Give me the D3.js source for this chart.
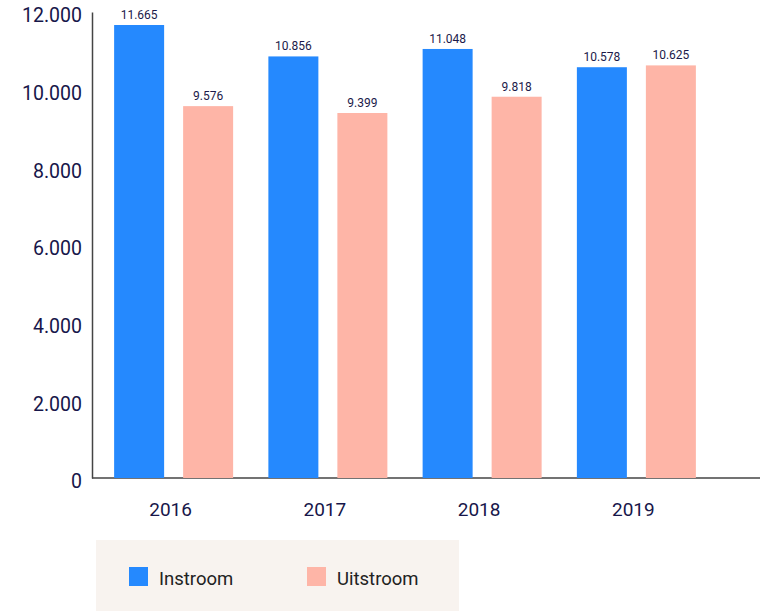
<!DOCTYPE html>
<html><head><meta charset="utf-8">
<script src="https://cdn.jsdelivr.net/npm/d3@7"></script>
<style>body{margin:0;background:#fff;font-family:Roboto,sans-serif}</style>
</head><body><svg id="c" width="774" height="611"></svg>
<script>
const years = ["2016","2017","2018","2019"];
const series = ["Instroom","Uitstroom"];
const instroom = [11665,10856,11048,10578];
const uitstroom = [9576,9399,9818,10625];
const yTicks = [0,2000,4000,6000,8000,10000,12000];
const colors = ["#2589fe","#feb5a7"];

const svg = d3.select("#c");
const nl = d3.formatLocale({decimal:",",thousands:".",grouping:[3],currency:["€",""]});
const fmt = nl.format(",d");

const y = d3.scaleLinear().domain([0,12000]).range([478,12]);
const x0 = d3.scaleBand().domain(years).range([96.5,713.5]).padding(0);
const x1 = d3.scaleBand().domain(series).range([0,119]).paddingInner(19/69).paddingOuter(0);
const off = (x0.bandwidth()-119)/2;

const data = years.map((yr,i)=>({yr, vals:[instroom[i],uitstroom[i]]}));

// axes
const yAxis = d3.axisLeft(y).tickValues(yTicks).tickFormat(d=>d===0?"0":fmt(d)).tickSize(0).tickPadding(10);
const ga = svg.append("g").attr("transform","translate(92,0)").call(yAxis);
ga.select(".domain").attr("stroke","#444").attr("stroke-width",1.5);
ga.selectAll("text").attr("font-size",19.5).attr("fill","#17164a").attr("font-family","Roboto").attr("dy","0.5em");

svg.append("line").attr("x1",92).attr("x2",760).attr("y1",478).attr("y2",478).attr("stroke","#444").attr("stroke-width",1.5);

const g = svg.selectAll(".grp").data(data).join("g").attr("transform",d=>`translate(${x0(d.yr)+off},0)`);
g.selectAll("rect").data(d=>d.vals.map((v,j)=>({v,s:series[j],j}))).join("rect")
  .attr("x",d=>x1(d.s)).attr("width",x1.bandwidth())
  .attr("y",d=>y(d.v)).attr("height",d=>478-y(d.v)).attr("fill",d=>colors[d.j]);
g.selectAll("text.v").data(d=>d.vals.map((v,j)=>({v,s:series[j]}))).join("text").attr("class","v")
  .attr("x",d=>x1(d.s)+x1.bandwidth()/2).attr("y",d=>y(d.v)-6)
  .attr("text-anchor","middle").attr("font-size",12).attr("fill","#1b1a4a").text(d=>fmt(d.v));

svg.selectAll("text.yr").data(years).join("text").attr("class","yr")
  .attr("x",d=>x0(d)+x0.bandwidth()/2-3).attr("y",516).attr("text-anchor","middle")
  .attr("font-size",19).attr("fill","#17164a").text(d=>d);

// legend
svg.append("rect").attr("x",96).attr("y",540).attr("width",363).attr("height",71).attr("fill","#f8f3ef");
const lx = [129,307];
series.forEach((s,i)=>{
  svg.append("rect").attr("x",lx[i]).attr("y",567).attr("width",19).attr("height",19).attr("fill",colors[i]);
  svg.append("text").attr("x",lx[i]+30).attr("y",585).attr("font-size",18.5).attr("fill","#222").text(s);
});
</script></body></html>
